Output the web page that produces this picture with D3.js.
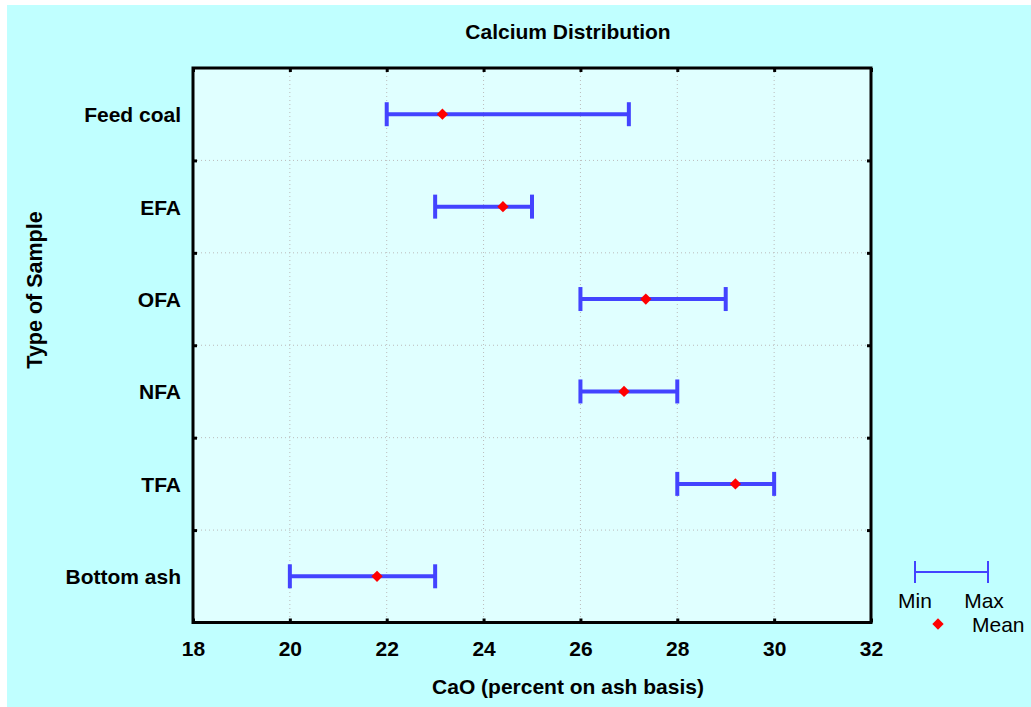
<!DOCTYPE html>
<html>
<head>
<meta charset="utf-8">
<script src="https://cdn.jsdelivr.net/npm/d3@7"></script>
<style>
  body { margin: 0; background: #fff; }
  text { font-family: "Liberation Sans", Arial, sans-serif; }
</style>
</head>
<body>
<svg id="drawing_region"></svg>
<script>
const categories = ["Feed coal", "EFA", "OFA", "NFA", "TFA", "Bottom ash"];
const minValues = [22, 23, 26, 26, 28, 20];
const maxValues = [27, 25, 29, 28, 30, 23];
const meanValues = [23.15, 24.4, 27.35, 26.9, 29.2, 21.8];
const xTicks = [18, 20, 22, 24, 26, 28, 30, 32];

const data = categories.map((c, i) => ({
    name: c, min: minValues[i], max: maxValues[i], mean: meanValues[i]
}));

const config = {
    width: 1031,
    height: 707,
    margin: { top: 68, right: 160, bottom: 85, left: 193 }
};
const fs = 21;

const svg = d3.select("#drawing_region")
    .attr("width", config.width)
    .attr("height", config.height);

svg.append("rect")
    .attr("x", 7).attr("y", 5)
    .attr("width", config.width - 7).attr("height", config.height - 5)
    .attr("fill", "#c0ffff");

const inner_width = 871 - config.margin.left;
const inner_height = 622.5 - config.margin.top;

const chart = svg.append("g")
    .attr("transform", `translate(${config.margin.left}, ${config.margin.top})`);

const xscale = d3.scaleLinear().domain([18, 32]).range([0, inner_width]);
const yscale = d3.scaleBand().domain(categories).range([0, inner_height]).padding(0);
const yedge = d3.scaleLinear().domain([0, categories.length]).range([0, inner_height]);
const edges = d3.range(1, categories.length);

chart.append("rect")
    .attr("width", inner_width).attr("height", inner_height)
    .attr("fill", "#e0ffff");

// grid
chart.append("g").selectAll("line.vg")
    .data(xTicks.slice(1, -1))
    .join("line")
    .attr("x1", d => xscale(d)).attr("x2", d => xscale(d))
    .attr("y1", 0).attr("y2", inner_height)
    .attr("stroke", "#bbbbbb").attr("stroke-width", 1)
    .attr("stroke-dasharray", "1,3");

chart.append("g").selectAll("line.hg")
    .data(edges)
    .join("line")
    .attr("x1", 0).attr("x2", inner_width)
    .attr("y1", d => yedge(d)).attr("y2", d => yedge(d))
    .attr("stroke", "#bbbbbb").attr("stroke-width", 1)
    .attr("stroke-dasharray", "1,3");

// axes ticks (inner)
const xaxisBottom = d3.axisTop(xscale).tickValues(xTicks).tickSize(4).tickFormat("");
const xaxisTop = d3.axisBottom(xscale).tickValues(xTicks).tickSize(4).tickFormat("");
const yaxisLeft = d3.axisRight(yedge).tickValues(edges).tickSize(4).tickFormat("");
const yaxisRight = d3.axisLeft(yedge).tickValues(edges).tickSize(4).tickFormat("");

function styleTicks(g) {
    g.select(".domain").remove();
    g.selectAll(".tick line").attr("stroke", "#000").attr("stroke-width", 3);
}
chart.append("g").attr("transform", `translate(0,${inner_height})`).call(xaxisBottom).call(styleTicks);
chart.append("g").call(xaxisTop).call(styleTicks);
chart.append("g").call(yaxisLeft).call(styleTicks);
chart.append("g").attr("transform", `translate(${inner_width},0)`).call(yaxisRight).call(styleTicks);

// tick labels
const xlabels = d3.axisBottom(xscale).tickValues(xTicks).tickSize(0).tickPadding(19);
chart.append("g").attr("transform", `translate(0,${inner_height})`).call(xlabels)
    .call(g => g.select(".domain").remove())
    .call(g => g.selectAll("text").attr("font-size", fs).attr("font-weight", "bold")
        .attr("fill", "#000").attr("font-family", "Liberation Sans, Arial, sans-serif"));

const ylabels = d3.axisLeft(yscale).tickSize(0).tickPadding(12);
chart.append("g").call(ylabels)
    .call(g => g.select(".domain").remove())
    .call(g => g.selectAll("text").attr("font-size", fs).attr("font-weight", "bold")
        .attr("dy", "0.38em")
        .attr("fill", "#000").attr("font-family", "Liberation Sans, Arial, sans-serif"));

// error bars
const blue = "#4343ff";
const capH = 24;
const bars = chart.append("g").selectAll("g")
    .data(data)
    .join("g")
    .attr("transform", d => `translate(0,${yscale(d.name) + yscale.bandwidth() / 2})`);

bars.append("line")
    .attr("x1", d => xscale(d.min)).attr("x2", d => xscale(d.max))
    .attr("stroke", blue).attr("stroke-width", 4);
bars.append("line")
    .attr("x1", d => xscale(d.min)).attr("x2", d => xscale(d.min))
    .attr("y1", -capH / 2).attr("y2", capH / 2)
    .attr("stroke", blue).attr("stroke-width", 4);
bars.append("line")
    .attr("x1", d => xscale(d.max)).attr("x2", d => xscale(d.max))
    .attr("y1", -capH / 2).attr("y2", capH / 2)
    .attr("stroke", blue).attr("stroke-width", 4);

const diamond = d3.symbol().type(d3.symbolSquare).size(64);
bars.append("path")
    .attr("d", diamond)
    .attr("transform", d => `translate(${xscale(d.mean)},0) rotate(45)`)
    .attr("fill", "#ff0000");

// frame
chart.append("rect")
    .attr("width", inner_width).attr("height", inner_height)
    .attr("fill", "none").attr("stroke", "#000").attr("stroke-width", 3);

// titles
svg.append("text")
    .attr("x", 568).attr("y", 39)
    .attr("text-anchor", "middle")
    .attr("font-size", fs).attr("font-weight", "bold")
    .text("Calcium Distribution");

svg.append("text")
    .attr("x", 568).attr("y", 694)
    .attr("text-anchor", "middle")
    .attr("font-size", fs).attr("font-weight", "bold")
    .text("CaO (percent on ash basis)");

svg.append("text")
    .attr("transform", "translate(42,290) rotate(-90)")
    .attr("text-anchor", "middle")
    .attr("font-size", fs + 0.5).attr("font-weight", "bold")
    .text("Type of Sample");

// legend
const legend = svg.append("g");
const lx1 = 915, lx2 = 988, ly = 572;
legend.append("line").attr("x1", lx1).attr("x2", lx2).attr("y1", ly).attr("y2", ly)
    .attr("stroke", blue).attr("stroke-width", 2);
legend.append("line").attr("x1", lx1).attr("x2", lx1).attr("y1", ly - 11).attr("y2", ly + 11)
    .attr("stroke", blue).attr("stroke-width", 2);
legend.append("line").attr("x1", lx2).attr("x2", lx2).attr("y1", ly - 11).attr("y2", ly + 11)
    .attr("stroke", blue).attr("stroke-width", 2);
legend.append("text").attr("x", 915).attr("y", 608).attr("text-anchor", "middle")
    .attr("font-size", fs).text("Min");
legend.append("text").attr("x", 984).attr("y", 608).attr("text-anchor", "middle")
    .attr("font-size", fs).text("Max");
legend.append("path").attr("d", diamond)
    .attr("transform", "translate(938,624) rotate(45)")
    .attr("fill", "#ff0000");
legend.append("text").attr("x", 972).attr("y", 632)
    .attr("font-size", fs).text("Mean");
</script>
</body>
</html>
